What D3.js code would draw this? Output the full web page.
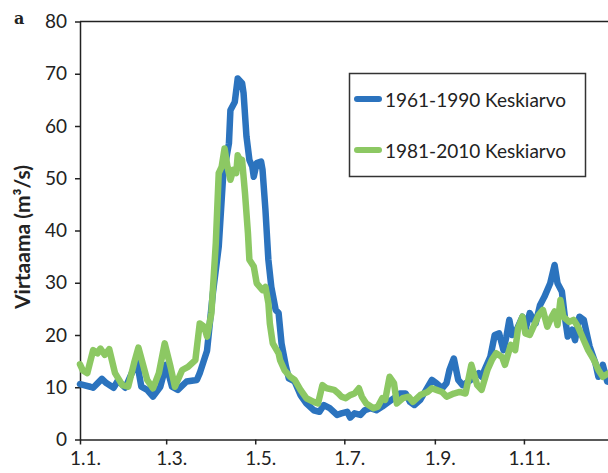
<!DOCTYPE html>
<html>
<head>
<meta charset="utf-8">
<script src="https://cdn.jsdelivr.net/npm/d3@7"></script>
<style>
  body { margin: 0; background: #fff; }
  svg { display: block; font-family: Lato, "Open Sans", sans-serif; }
</style>
</head>
<body>
<script>
// Data: day of year (0 = 1.1.) and flow in m3/s
const blueDays = [0, 7, 9, 15, 18, 23, 26, 31, 39, 42, 46, 50, 55, 59, 63, 67, 73, 80, 82, 87,
  91, 95, 98, 102, 103, 106, 108, 111, 112, 114, 116, 118, 119, 121, 124, 125, 127, 129, 131, 134,
  136, 138, 141, 143, 147, 151, 155, 160, 164, 167, 171, 176, 179, 183, 185, 188, 192, 195, 199, 203,
  207, 210, 215, 219, 223, 226, 229, 233, 237, 241, 244, 248, 251, 253, 256, 259, 262, 266, 269, 273,
  275, 277, 281, 284, 287, 290, 292, 294, 296, 299, 303, 305, 308, 312, 315, 318, 322, 325, 327, 330,
  332, 334, 337, 339, 342, 345, 347, 349, 353, 355, 358, 361, 364];
const blueFlow = [10.6, 10.1, 9.9, 11.6, 10.8, 9.9, 11.3, 9.9, 14.9, 10.1, 9.5, 8.2, 10.1, 14.3, 10.1, 9.5, 11.1, 11.4, 12.7, 17,
  28, 36.9, 50.3, 56.7, 63, 64.6, 69.1, 68.2, 66.3, 58, 53.5, 52.2, 50.3, 52.9, 53.2, 51.6, 43.9, 34.4, 29.2, 24.8,
  24.2, 18.4, 14, 11.7, 11.1, 8.5, 6.9, 5.6, 5.3, 6.6, 6, 4.7, 5, 5.3, 4.2, 5, 4.7, 5.6, 6, 5.6,
  6.3, 6.9, 7.9, 8.8, 8.8, 7.2, 6.6, 7.6, 9.5, 11.4, 10.8, 9.8, 10.8, 13.3, 15.5, 11.4, 10.4, 11.1, 11.7, 12.7,
  12, 13.3, 15.8, 20, 20.3, 17.1, 19.7, 22.9, 20, 21, 23.5, 21, 24.2, 22.2, 25.7, 27.3, 29.9, 33.4, 29.9, 28.3,
  23.5, 19.7, 21, 19, 23.5, 22.9, 20.3, 17.8, 14.6, 12, 14.3, 11.1, 11];

const greenDays = [0, 2, 5, 9, 12, 14, 17, 20, 24, 29, 33, 37, 40, 46, 50, 54, 58, 62, 65, 70,
  74, 79, 82, 85, 87, 90, 93, 95, 97, 99, 101, 103, 105, 107, 108, 110, 111, 113, 115, 116,
  119, 121, 125, 127, 129, 130, 132, 136, 137, 140, 144, 147, 151, 155, 160, 163, 166, 169, 174, 177,
  179, 182, 185, 188, 191, 193, 196, 201, 204, 207, 209, 212, 215, 217, 221, 225, 228, 233, 238, 241,
  244, 248, 251, 256, 260, 264, 268, 272, 275, 279, 282, 285, 289, 291, 295, 298, 300, 303, 305, 308,
  312, 314, 317, 320, 323, 325, 327, 329, 331, 335, 338, 341, 345, 348, 352, 355, 358, 362, 364];
const greenFlow = [14.4, 13.2, 12.7, 17.1, 16.5, 17.4, 16.2, 17.3, 12.7, 10.4, 10.1, 14.6, 17.6, 11.4, 9.8, 12.7, 18.4, 13.9, 10.1, 13.3,
  13.9, 15.2, 22.2, 21.6, 19.7, 24.2, 37.6, 51, 52.2, 55.7, 52.2, 49.7, 51.6, 51, 54.4, 53.2, 53.5, 47.1, 39.5, 34.4,
  33.1, 29.9, 28.6, 29.2, 26.1, 22.2, 18.4, 16.5, 15.2, 13.3, 12, 11.4, 9.5, 7.9, 7.2, 6.9, 10.4, 9.8, 9.5, 8.8,
  8.2, 7.9, 8.5, 8.8, 9.8, 8.2, 6.9, 6, 6.3, 7.9, 7.6, 12, 10.8, 6.9, 7.9, 8.2, 7.2, 8.5, 9.1, 9.8,
  9.5, 9.1, 8.2, 8.8, 9.1, 8.8, 14.3, 10.4, 9.5, 13.3, 15.2, 16.5, 15.8, 14.3, 18.1, 17.1, 21.3, 23.5, 20.3, 20,
  22.5, 23.8, 24.8, 21.6, 23.5, 24.5, 21.9, 26.7, 23.5, 22.5, 22.9, 21.6, 19, 17.1, 15.2, 13.3, 12, 12.7, 13];

const seriesNames = ['1961-1990 Keskiarvo', '1981-2010 Keskiarvo'];
const seriesColors = ['#2b73be', '#8cc863'];
const yTicks = [0, 10, 20, 30, 40, 50, 60, 70, 80];
const xTickMonths = [0, 2, 4, 6, 8, 10]; // 1.1., 1.3., 1.5., 1.7., 1.9., 1.11.
const yTitle = 'Virtaama (m³/s)';
const panelLabel = 'a';

// Sizes
const width = 608, height = 473;
const plot = { left: 80, top: 21.5, bottom: 439.5, right: 613 };

const svg = d3.select('body').append('svg')
  .attr('width', width)
  .attr('height', height);

const year0 = new Date(2001, 0, 1);
const toDate = d => d3.timeDay.offset(year0, d);

const xScale = d3.scaleTime()
  .domain([year0, new Date(2002, 0, 1)])
  .range([plot.left, plot.right]);
const yScale = d3.scaleLinear()
  .domain([0, 80])
  .range([plot.bottom, plot.top]);

const axisLayer = svg.append('g');
const linesLayer = svg.append('g');
const legendLayer = svg.append('g');

// Axes
function paintAxis() {
  const yAxis = axisLayer.append('g')
    .attr('transform', `translate(${plot.left},0)`)
    .call(d3.axisLeft(yScale).tickValues(yTicks).tickSize(5).tickSizeOuter(0).tickPadding(8));
  const xAxis = axisLayer.append('g')
    .attr('transform', `translate(0,${plot.bottom})`)
    .call(d3.axisBottom(xScale)
      .tickValues(xTickMonths.map(m => new Date(2001, m, 1)))
      .tickFormat(d3.timeFormat('%-d.%-m.'))
      .tickSize(5).tickSizeOuter(0).tickPadding(7));
  [yAxis, xAxis].forEach(a => {
    a.selectAll('path, line').attr('stroke', '#222').attr('stroke-width', 1.5);
    a.selectAll('text').attr('fill', '#222').attr('font-size', 19).attr('font-family', 'Lato, sans-serif');
  });
  xAxis.selectAll('text').attr('dx', 5);
  // top border of the plot area
  axisLayer.append('line')
    .attr('x1', plot.left).attr('x2', plot.right)
    .attr('y1', plot.top).attr('y2', plot.top)
    .attr('stroke', '#222').attr('stroke-width', 1.5);

  svg.append('text')
    .attr('transform', 'translate(21,237) rotate(-90)')
    .attr('text-anchor', 'middle')
    .attr('dominant-baseline', 'central')
    .attr('font-size', 21).attr('font-weight', 'bold').attr('fill', '#222')
    .text(yTitle);

  svg.append('text')
    .attr('x', 14).attr('y', 24)
    .attr('font-family', '"DejaVu Serif", serif')
    .attr('font-size', 16).attr('font-weight', 'bold').attr('fill', '#222')
    .text(panelLabel);
}

// Lines
function update(series) {
  const line = d3.line()
    .x(d => xScale(toDate(d[0])))
    .y(d => yScale(d[1]));
  linesLayer.selectAll('path')
    .data(series)
    .enter()
    .append('path')
    .attr('d', s => line(s.points))
    .attr('fill', 'none')
    .attr('stroke', s => s.color)
    .attr('stroke-width', 6.5)
    .attr('stroke-linejoin', 'round')
    .attr('stroke-linecap', 'round');
}

// Legend
function paintLegend(series) {
  legendLayer.append('rect')
    .attr('x', 349.5).attr('y', 73.5)
    .attr('width', 236).attr('height', 103)
    .attr('fill', '#fff').attr('stroke', '#333').attr('stroke-width', 1.5);
  const item = legendLayer.selectAll('g.item')
    .data(series)
    .enter()
    .append('g')
    .attr('class', 'item')
    .attr('transform', (s, i) => `translate(357,${99 + i * 51})`);
  item.append('line')
    .attr('x1', 0).attr('x2', 22)
    .attr('stroke', s => s.color)
    .attr('stroke-width', 6)
    .attr('stroke-linecap', 'round');
  item.append('text')
    .attr('x', 28)
    .attr('dominant-baseline', 'central')
    .attr('font-size', 19).attr('fill', '#222')
    .text(s => s.name);
}

function buildChart() {
  const series = [
    { name: seriesNames[0], color: seriesColors[0], points: d3.zip(blueDays, blueFlow) },
    { name: seriesNames[1], color: seriesColors[1], points: d3.zip(greenDays, greenFlow) }
  ];
  paintAxis();
  update(series);
  paintLegend(series);
}

buildChart();
</script>
</body>
</html>
